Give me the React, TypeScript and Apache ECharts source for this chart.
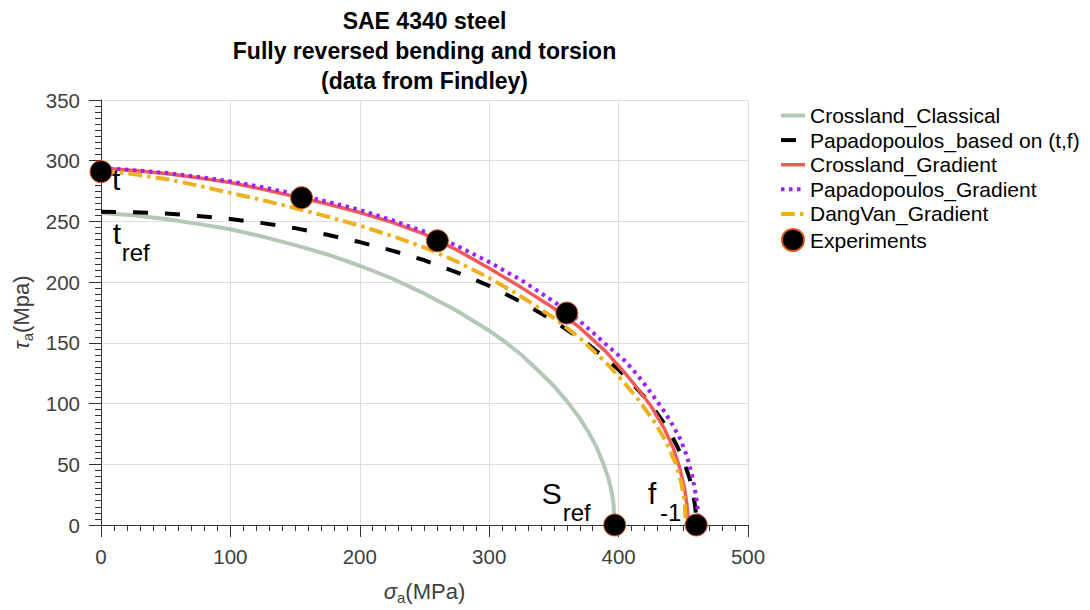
import React, { useEffect, useRef } from "react";
import * as echarts from "echarts";

// sigma_a (MPa), tau_a (MPa) pairs
const crosslandClassical = [[0,257],[25,255],[50,252],[75,248],[100,243.5],[125,237.5],[150,230.5],[175,222.8],[200,213.5],[225,203],[250,190.5],[275,176.5],[300,160],[312,151],[325,140],[337,128],[350,114.5],[360,102],[370,88],[377,76],[383,64],[388,51],[392,39],[394.5,28],[396,18],[397,0]];
const papadopoulosTF = [[0,258],[25,257.6],[50,256.5],[75,254.5],[100,252],[125,248.6],[150,244.5],[175,239],[200,233],[225,226],[250,218],[275,208],[300,197],[325,183.5],[350,168],[375,150],[390,137],[400,128],[410,117],[420,105.5],[428,94.5],[435,84],[440,75.5],[445,65.5],[450,53.5],[455,38],[458,24],[459.5,12],[460,0]];
const crosslandGradient = [[0,294],[25,292],[50,289.5],[75,286],[100,282],[125,276.5],[150,270.5],[175,264.3],[200,257.3],[225,249.3],[250,239.5],[275,226.5],[300,211.5],[325,195.5],[350,178.5],[370,162.5],[390,143],[405,125],[415,112],[425,98],[435,80],[442,64],[447,48],[451,30],[453,15],[454,0]];
const papadopoulosGradient = [[0,294],[25,292.2],[50,290],[75,286.7],[100,283],[125,278.2],[150,272.5],[175,266.2],[200,259.5],[225,251],[250,241.5],[275,230],[300,216.5],[325,201.5],[350,184],[370,168],[390,149],[405,135],[415,123],[425,109],[435,94],[442,82],[448,70],[453,56],[457,40],[460,23],[461.5,10],[462,0]];
const dangVanGradient = [[0,292],[25,289],[50,285],[75,279.5],[100,273.5],[125,267.5],[150,261],[175,254],[200,246.5],[225,238],[250,228.5],[275,217],[300,203.5],[325,188],[350,170.5],[370,154],[390,134],[402,120],[414,105],[427,86],[436,70],[444,51],[448,37],[451,20],[452,0]];
const experiments = [[0,291],[155,269.5],[260,234],[360,174.5],[397,0],[460,0]];

const seriesNames = [
  "Crossland_Classical",
  "Papadopoulos_based on (t,f)",
  "Crossland_Gradient",
  "Papadopoulos_Gradient",
  "DangVan_Gradient",
  "Experiments",
];

const titleLines = ["SAE 4340 steel", "Fully reversed bending and torsion", "(data from Findley)"];

// annotation labels: main letter, subscript, anchor (data coords of baseline-left), subscript x offset
const annotations = [
  { main: "t", sub: "", at: [8.5, 276], dx: 9 },
  { main: "t", sub: "ref", at: [9, 232], dx: 9 },
  { main: "S", sub: "ref", at: [340.6, 18], dx: 21 },
  { main: "f", sub: "-1", at: [422.7, 18], dx: 12 },
];

const FONT = '"Liberation Sans", Arial, Helvetica, sans-serif';

export default function App() {
  const ref = useRef<HTMLDivElement>(null);
  useEffect(() => {
    const chart = echarts.init(ref.current!, null, { renderer: "svg" });
    const lineWidths = [4, 4, 3.5, 4, 4];
    const line = (name: string, data: number[][], color: string, width: number, type: any) => ({
      type: "line",
      name,
      data,
      symbol: "none",
      showSymbol: false,
      silent: true,
      emphasis: { disabled: true },
      lineStyle: { color, width, type, cap: "butt", join: "round" },
      itemStyle: { color },
    });
    const axisColor = "#333333";
    const labelColor = "#404040";
    const nameRich = {
      i: { fontSize: 22, fontStyle: "italic", fontFamily: FONT, color: labelColor, lineHeight: 24, verticalAlign: "top" },
      s: { fontSize: 15, fontFamily: FONT, color: labelColor, lineHeight: 15, verticalAlign: "bottom", padding: [18, 0, 0, 0] },
      n: { fontSize: 22, fontFamily: FONT, color: labelColor, lineHeight: 24, verticalAlign: "top" },
    };
    const axisCommon = {
      type: "value",
      nameLocation: "middle",
      axisLine: { show: true, onZero: false, lineStyle: { color: axisColor, width: 1 } },
      axisTick: { show: true, length: 12, inside: false, lineStyle: { color: axisColor } },
      minorTick: { show: true, splitNumber: 10, length: 6, lineStyle: { color: axisColor } },
      axisLabel: { color: labelColor, fontSize: 20.5, margin: 21, fontFamily: FONT },
      splitLine: { show: true, lineStyle: { color: "#dddddd", width: 1 } },
    };
    chart.setOption({
      animation: false,
      backgroundColor: "#ffffff",
      textStyle: { fontFamily: FONT },
      grid: { left: 101, top: 100, width: 647, height: 425, containLabel: false, outerBoundsMode: "none" },
      legend: {
        orient: "vertical",
        left: 779,
        top: 105,
        padding: 0,
        itemWidth: 24,
        itemHeight: 22,
        itemGap: 3.6,
        selectedMode: false,
        data: seriesNames.map((n, i) =>
          i < 5
            ? { name: n, itemStyle: { opacity: 0 }, lineStyle: { width: lineWidths[i] } }
            : { name: n }
        ),
        textStyle: { fontSize: 21, color: "#000", fontFamily: FONT },
      },
      xAxis: {
        ...axisCommon,
        min: 0,
        max: 500,
        interval: 100,
        name: "{i|σ}{s|a}{n|(MPa)}",
        nameGap: 42,
        nameTextStyle: { color: labelColor, rich: nameRich },
      },
      yAxis: {
        ...axisCommon,
        min: 0,
        max: 350,
        interval: 50,
        name: "{i|τ}{s|a}{n|(Mpa)}",
        nameRotate: 90,
        nameGap: 57,
        nameTextStyle: { color: labelColor, rich: nameRich },
      },
      series: [
        line(seriesNames[0], crosslandClassical, "#B4C8B5", lineWidths[0], "solid"),
        line(seriesNames[1], papadopoulosTF, "#000000", lineWidths[1], [15, 17]),
        line(seriesNames[2], crosslandGradient, "#EF5B5B", lineWidths[2], "solid"),
        line(seriesNames[3], papadopoulosGradient, "#A020F0", lineWidths[3], [3.5, 4.5]),
        line(seriesNames[4], dangVanGradient, "#EDB120", lineWidths[4], [14, 5, 3.5, 5]),
        {
          type: "scatter",
          name: seriesNames[5],
          data: experiments,
          symbol: "circle",
          symbolSize: 22,
          clip: false,
          silent: true,
          emphasis: { disabled: true },
          itemStyle: { color: "#000000", borderColor: "#D95319", borderWidth: 1, opacity: 1 },
          z: 5,
        },
      ],
    });

    const graphics: any[] = [
      {
        type: "text",
        x: 424.5,
        y: 6,
        silent: true,
        style: {
          text: titleLines.join("\n"),
          fontSize: 23,
          fontWeight: "bold",
          fontFamily: FONT,
          lineHeight: 30,
          fill: "#000",
          align: "center",
          textAlign: "center",
          verticalAlign: "top",
          textVerticalAlign: "top",
        },
      },
    ];
    annotations.forEach((a) => {
      const p = chart.convertToPixel({ xAxisIndex: 0, yAxisIndex: 0 }, a.at) as number[];
      graphics.push({
        type: "text",
        x: p[0],
        y: p[1] - 10,
        silent: true,
        z: 10,
        style: {
          text: a.main,
          fontSize: 30,
          fontFamily: FONT,
          fill: "#000",
          align: "left",
          textAlign: "left",
          verticalAlign: "middle",
          textVerticalAlign: "middle",
        },
      });
      if (a.sub) {
        graphics.push({
          type: "text",
          x: p[0] + a.dx,
          y: p[1] + 9,
          silent: true,
          z: 10,
          style: {
            text: a.sub,
            fontSize: 24,
            fontFamily: FONT,
            fill: "#000",
            align: "left",
            textAlign: "left",
            verticalAlign: "middle",
            textVerticalAlign: "middle",
          },
        });
      }
    });
    chart.setOption({ graphic: graphics });
    return () => chart.dispose();
  }, []);
  return (
    <div
      ref={ref}
      style={{ position: "absolute", left: 0, top: 0, width: 1090, height: 610, background: "#fff" }}
    />
  );
}
